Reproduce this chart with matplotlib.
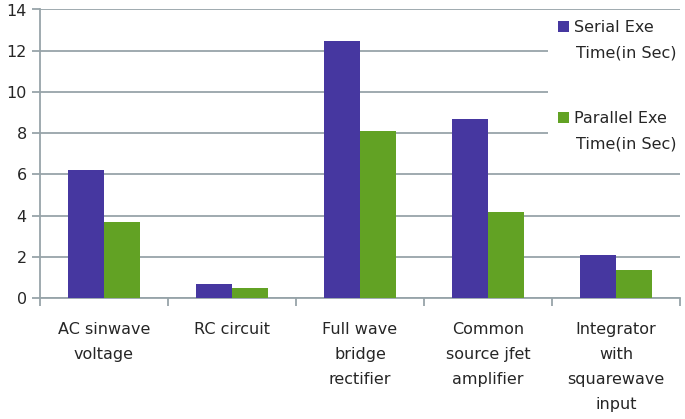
import numpy as np
import matplotlib
matplotlib.use('Agg')
import matplotlib.pyplot as plt
from matplotlib.patches import Rectangle

categories = ['AC sinwave\nvoltage', 'RC circuit', 'Full wave\nbridge\nrectifier',
              'Common\nsource jfet\namplifier', 'Integrator\nwith\nsquarewave\ninput']
serial = [6.2, 0.7, 12.45, 8.7, 2.07]
parallel = [3.67, 0.5, 8.12, 4.15, 1.37]
labels = ['Serial Exe\nTime(in Sec)', 'Parallel Exe\nTime(in Sec)']

c_serial = '#4637A0'
c_parallel = '#62A224'
c_axis = '#97A4A9'
c_text = '#262626'

plt.rcParams['font.family'] = ['DejaVu Sans']

fig = plt.figure(figsize=(6.85, 4.19), dpi=100)
ax = fig.add_axes([40/685, 1 - 298/419, 640/685, 288.5/419])

x = np.arange(len(categories))
w = 0.28
ax.bar(x - w/2, serial, w, color=c_serial, zorder=3)
ax.bar(x + w/2, parallel, w, color=c_parallel, zorder=3)

ax.set_xlim(-0.5, len(categories) - 0.5)
ax.set_ylim(0, 14)
ax.set_yticks(range(0, 15, 2))
ax.yaxis.grid(True, color=c_axis, linewidth=1.3, zorder=0)

ax.set_xticks(x)
ax.set_xticklabels(categories, fontsize=11.5, color=c_text, linespacing=1.85, va='top')
ax.set_xticks(np.arange(-0.5, len(categories)), minor=True)
ax.tick_params(axis='x', which='major', length=0, pad=17)
ax.tick_params(axis='x', which='minor', length=6, color=c_axis, width=1.3)
ax.tick_params(axis='y', length=6, color=c_axis, width=1.3, labelsize=11.5, labelcolor=c_text)

for s in ['top', 'right']:
    ax.spines[s].set_visible(False)
for s in ['left', 'bottom']:
    ax.spines[s].set_color(c_axis)
    ax.spines[s].set_linewidth(1.3)

# legend area: white block hiding the gridlines on the right
W, H = 685, 419
fig.patches.append(Rectangle((548/W, 1 - 160/H), 137/W, 148/H, transform=fig.transFigure,
                             facecolor='white', edgecolor='none', zorder=2))
for i, (lab, col) in enumerate(zip(labels, [c_serial, c_parallel])):
    y0 = 27 + i * 91
    fig.patches.append(Rectangle((558/W, 1 - (y0 + 5.5)/H), 11/W, 11/H, transform=fig.transFigure,
                                 facecolor=col, edgecolor='none', zorder=3))
    l1, l2 = lab.split('\n')
    fig.text(574/W, 1 - y0/H, l1, fontsize=11.5, color=c_text, va='center', ha='left', zorder=4)
    fig.text(576/W, 1 - (y0 + 26)/H, l2, fontsize=11.5, color=c_text, va='center', ha='left', zorder=4)

fig.savefig('out.png', dpi=100)
